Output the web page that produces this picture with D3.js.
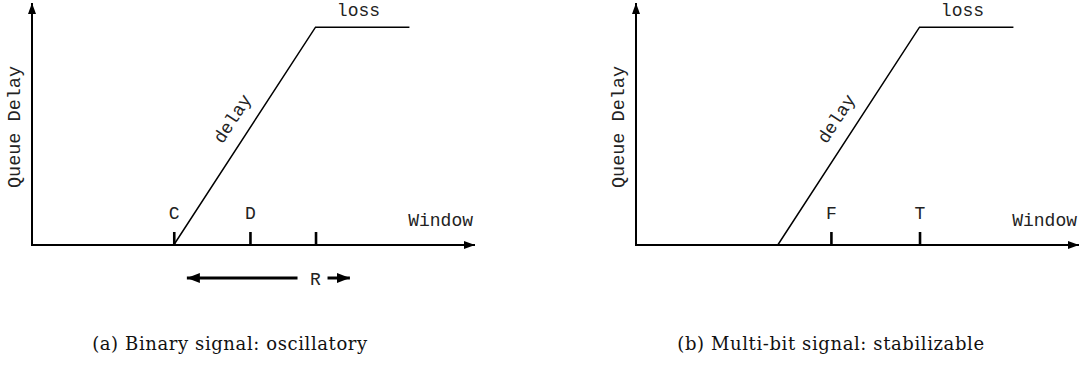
<!DOCTYPE html>
<html>
<head>
<meta charset="utf-8">
<script src="https://cdn.jsdelivr.net/npm/d3@7/dist/d3.min.js"></script>
<style>
  html, body { margin: 0; padding: 0; background: #fff; }
  svg { display: block; }
  .mono { font-family: "Liberation Mono", "DejaVu Sans Mono", monospace; fill: #222; }
  .cap { font-family: "DejaVu Serif", "Liberation Serif", serif; fill: #111; }
</style>
</head>
<body>
<svg id="chart" width="1081" height="367"></svg>
<script>
// Window axis runs 0..12.5, queue delay 0..1
const windowDomain = [0, 12.5];
const delayDomain = [0, 1];

// Delay curve: zero until the knee, rising to the loss plateau
const curveWindow = [4, 8, 10.65];
const curveDelay = [0, 0.9, 0.9];

// Marked window values on each panel
const tickValuesA = [4, 6.15, 8];
const tickLabelsA = ["C", "D", ""];
const tickValuesB = [5.5, 8];
const tickLabelsB = ["F", "T"];

const captions = ["(a) Binary signal: oscillatory", "(b) Multi-bit signal: stabilizable"];
const axisTitleX = "Window";
const axisTitleY = "Queue Delay";
const curveLabel = "delay";
const plateauLabel = "loss";

// R range arrow under panel (a): left tip, label position, right tip (window units)
const rangeArrow = [4.37, 8, 8.97];
const rangeLabel = "R";

const svg = d3.select("#chart");
svg.append("rect").attr("width", 1081).attr("height", 367).attr("fill", "#fff");

const defs = svg.append("defs");
function arrowMarker(id, len, wid) {
  defs.append("marker")
    .attr("id", id)
    .attr("markerUnits", "userSpaceOnUse")
    .attr("markerWidth", len).attr("markerHeight", wid)
    .attr("refX", len).attr("refY", wid / 2)
    .attr("orient", "auto-start-reverse")
    .append("path")
    .attr("d", `M0,0L${len},${wid / 2}L0,${wid}Z`)
    .attr("fill", "#000");
}
arrowMarker("ax", 11, 8);
arrowMarker("rg", 13, 10);

const x = d3.scaleLinear().domain(windowDomain).range([32, 475]);
const y = d3.scaleLinear().domain(delayDomain).range([245, 3]);

function panel(g, tickValues, tickLabels, caption, captionX, withRange) {
  // Axes with arrowheads
  g.append("line")
    .attr("x1", x(0)).attr("y1", y(0)).attr("x2", x(windowDomain[1])).attr("y2", y(0))
    .attr("stroke", "#000").attr("stroke-width", 2)
    .attr("marker-end", "url(#ax)");
  g.append("line")
    .attr("x1", x(0)).attr("y1", y(0) + 1).attr("x2", x(0)).attr("y2", y(delayDomain[1]))
    .attr("stroke", "#000").attr("stroke-width", 2)
    .attr("marker-end", "url(#ax)");

  // Ticks pointing up with labels above
  const axis = d3.axisTop(x)
    .tickValues(tickValues)
    .tickFormat((d, i) => tickLabels[i])
    .tickSizeInner(13).tickSizeOuter(0).tickPadding(13);
  const ag = g.append("g").attr("transform", `translate(0,${y(0)})`).call(axis);
  ag.select(".domain").remove();
  ag.selectAll(".tick line").attr("stroke", "#000").attr("stroke-width", 2.6);
  ag.selectAll(".tick text")
    .attr("class", "mono").attr("font-size", 18).attr("fill", "#222");

  // Delay curve
  const pts = curveWindow.map((w, i) => [x(w), y(curveDelay[i])]);
  g.append("path")
    .attr("d", d3.line()(pts))
    .attr("fill", "none").attr("stroke", "#000").attr("stroke-width", 1.5);

  // "delay" label along the rising segment
  const [p0, p1] = [pts[0], pts[1]];
  const ang = Math.atan2(p1[1] - p0[1], p1[0] - p0[0]) * 180 / Math.PI;
  const t = 0.53;
  const mx = p0[0] + (p1[0] - p0[0]) * t, my = p0[1] + (p1[1] - p0[1]) * t;
  g.append("text").attr("class", "mono").attr("font-size", 18)
    .attr("text-anchor", "middle")
    .attr("transform", `translate(${mx},${my}) rotate(${ang})`)
    .attr("dy", -14)
    .text(curveLabel);

  // "loss" label above the plateau
  g.append("text").attr("class", "mono").attr("font-size", 18)
    .attr("text-anchor", "middle")
    .attr("x", x((curveWindow[1] + curveWindow[2]) / 2) - 4)
    .attr("y", 16)
    .text(plateauLabel);

  // Axis titles
  g.append("text").attr("class", "mono").attr("font-size", 18)
    .attr("text-anchor", "end")
    .attr("x", x(windowDomain[1]) - 2).attr("y", 226)
    .text(axisTitleX);
  g.append("text").attr("class", "mono").attr("font-size", 18.5)
    .attr("text-anchor", "middle")
    .attr("transform", `translate(20,127) rotate(-90)`)
    .text(axisTitleY);

  if (withRange) {
    const ry = 278;
    const [left, mid, right] = rangeArrow.map(x);
    g.append("line")
      .attr("x1", mid - 18).attr("y1", ry)
      .attr("x2", left).attr("y2", ry)
      .attr("stroke", "#000").attr("stroke-width", 3)
      .attr("marker-end", "url(#rg)");
    g.append("line")
      .attr("x1", mid + 12).attr("y1", ry)
      .attr("x2", right).attr("y2", ry)
      .attr("stroke", "#000").attr("stroke-width", 3)
      .attr("marker-end", "url(#rg)");
    g.append("text").attr("class", "mono").attr("font-size", 18)
      .attr("text-anchor", "middle")
      .attr("x", mid).attr("y", ry + 7)
      .text(rangeLabel);
  }

  g.append("text").attr("class", "cap").attr("font-size", 18)
    .attr("letter-spacing", 0.6)
    .attr("text-anchor", "middle")
    .attr("x", captionX).attr("y", 350)
    .text(caption);
}

panel(svg.append("g"), tickValuesA, tickLabelsA, captions[0], 230, true);
panel(svg.append("g").attr("transform", "translate(604,0)"), tickValuesB, tickLabelsB, captions[1], 227, false);
</script>
</body>
</html>
